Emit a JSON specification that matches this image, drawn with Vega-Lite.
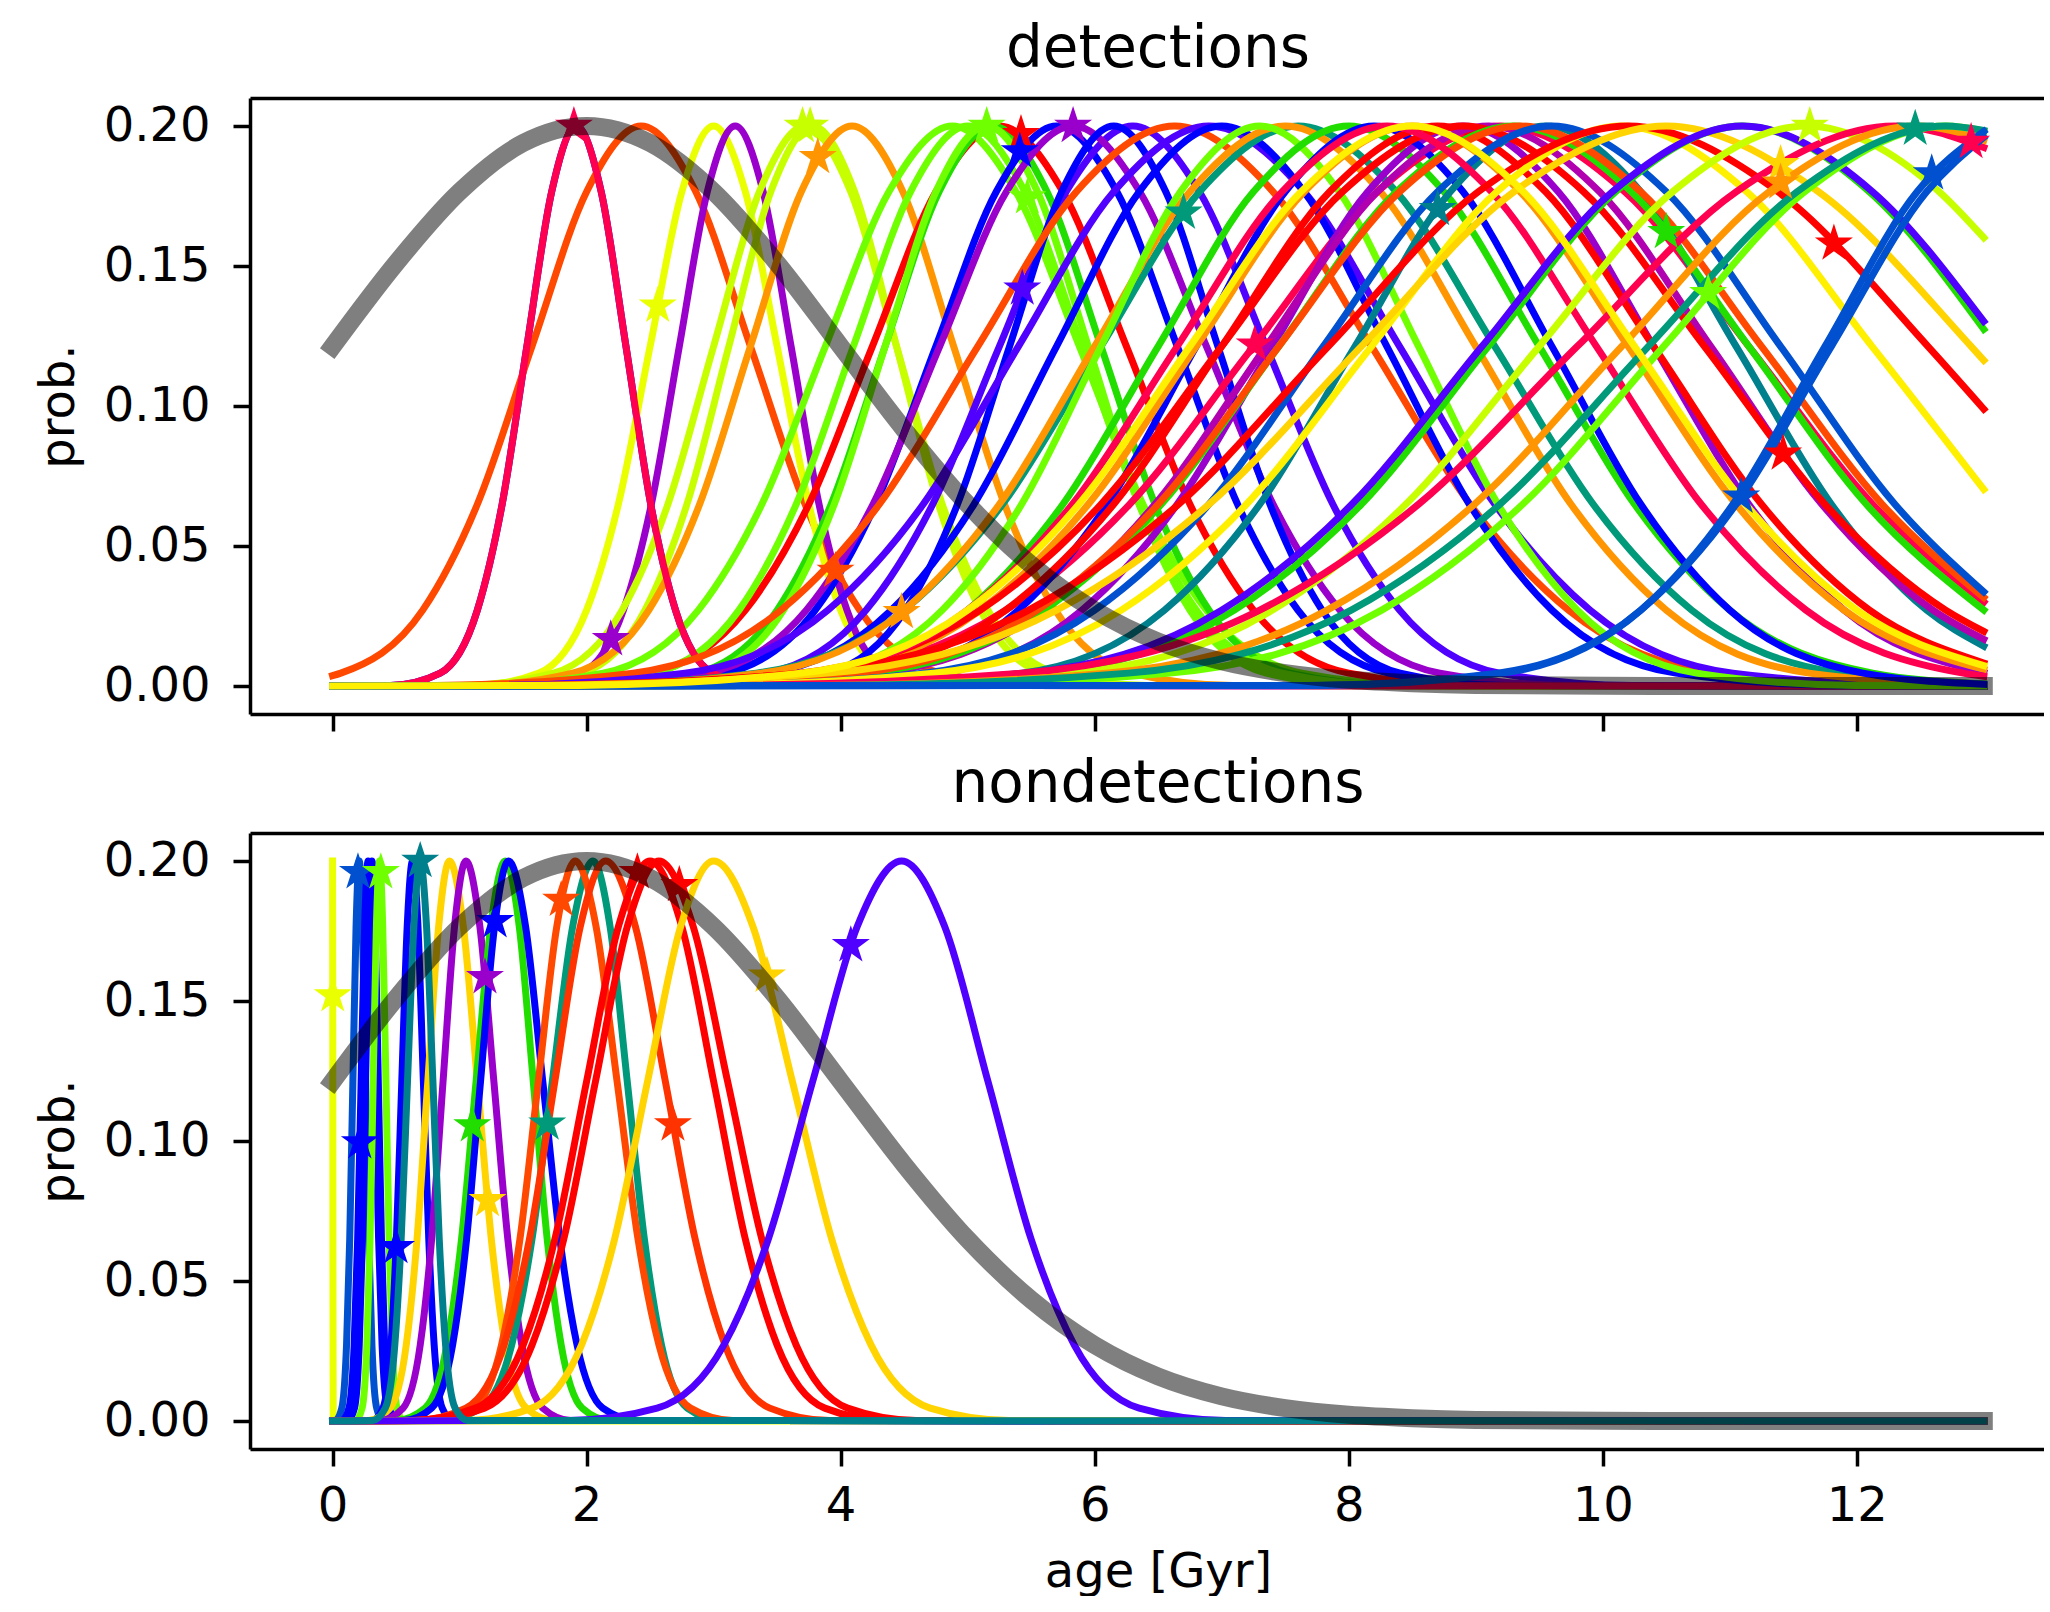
{
"$schema": "https://vega.github.io/schema/vega-lite/v6.json",
"background": "white",
"padding": {"left": 35, "top": 20, "right": 0, "bottom": 0},
"config": {
  "font": "DejaVu Sans",
  "view": {"stroke": null},
  "axis": {"domainColor": "#000000", "domainWidth": 3.5, "tickColor": "#000000", "tickWidth": 3.5, "tickSize": 17, "labelFont": "DejaVu Sans", "labelFontSize": 48, "labelColor": "#000000", "labelPadding": 16, "titleFont": "DejaVu Sans", "titleFontSize": 48, "titleFontWeight": "normal", "titleColor": "#000000", "titlePadding": 18, "grid": false, "labelFlush": false, "labelOverlap": false, "zindex": 1},
  "axisY": {"labelPadding": 23, "titlePadding": 20},
  "title": {"font": "DejaVu Sans", "fontSize": 58, "fontWeight": "normal", "color": "#000000", "baseline": "alphabetic", "offset": 11, "anchor": "middle", "dx": 11}
},
"datasets": {
"curves": [
{"panel":"det","id":"d01","hue":"blue","x":[0,0.4575,0.8475,1.14,1.335,1.53,1.725,1.92,2.115,2.31,2.505,2.7,2.9925,3.3825,13],"y":[0,0.0002,0.0046,0.0271,0.0649,0.1213,0.1765,0.2,0.1765,0.1213,0.0649,0.0271,0.0046,0.0002,0]},
{"panel":"det","id":"d03","hue":"orangered","x":[0,0.065,0.71,1.14,1.57,2.0,2.43,2.86,3.29,3.72,4.15,4.795,5.655,13],"y":[0.0037,0.0046,0.0271,0.0649,0.1213,0.1765,0.2,0.1765,0.1213,0.0649,0.0271,0.0046,0.0002,0]},
{"panel":"det","id":"d04","hue":"lemon","x":[0,1.125,1.625,2.0,2.25,2.5,2.75,3.0,3.25,3.5,3.75,4.0,4.375,4.875,13],"y":[0,0.0002,0.0046,0.0271,0.0649,0.1213,0.1765,0.2,0.1765,0.1213,0.0649,0.0271,0.0046,0.0002,0]},
{"panel":"det","id":"d05","hue":"purple","x":[0,1.52,1.96,2.29,2.51,2.73,2.95,3.17,3.39,3.61,3.83,4.05,4.38,4.82,13],"y":[0,0.0002,0.0046,0.0271,0.0649,0.1213,0.1765,0.2,0.1765,0.1213,0.0649,0.0271,0.0046,0.0002,0]},
{"panel":"det","id":"d06","hue":"chartreuse","x":[0,1.02,1.74,2.28,2.64,3.0,3.36,3.72,4.08,4.44,4.8,5.16,5.7,6.42,13],"y":[0,0.0002,0.0046,0.0271,0.0649,0.1213,0.1765,0.2,0.1765,0.1213,0.0649,0.0271,0.0046,0.0002,0]},
{"panel":"det","id":"d07","hue":"chartreuse","x":[0,1.305,1.965,2.46,2.79,3.12,3.45,3.78,4.11,4.44,4.77,5.1,5.595,6.255,13],"y":[0,0.0002,0.0046,0.0271,0.0649,0.1213,0.1765,0.2,0.1765,0.1213,0.0649,0.0271,0.0046,0.0002,0]},
{"panel":"det","id":"d08","hue":"orange","x":[0,1.09,1.89,2.49,2.89,3.29,3.69,4.09,4.49,4.89,5.29,5.69,6.29,7.09,13],"y":[0,0.0002,0.0046,0.0271,0.0649,0.1213,0.1765,0.2,0.1765,0.1213,0.0649,0.0271,0.0046,0.0002,0]},
{"panel":"det","id":"d09","hue":"lime","x":[0,1.13,2.13,2.88,3.38,3.88,4.38,4.88,5.38,5.88,6.38,6.88,7.63,8.63,13],"y":[0,0.0002,0.0046,0.0271,0.0649,0.1213,0.1765,0.2,0.1765,0.1213,0.0649,0.0271,0.0046,0.0002,0]},
{"panel":"det","id":"d10","hue":"red","x":[0,1.5,2.5,3.25,3.75,4.25,4.75,5.25,5.75,6.25,6.75,7.25,8.0,9.0,13],"y":[0,0.0002,0.0046,0.0271,0.0649,0.1213,0.1765,0.2,0.1765,0.1213,0.0649,0.0271,0.0046,0.0002,0]},
{"panel":"det","id":"d11","hue":"green","x":[0,2.0125,2.8625,3.5,3.925,4.35,4.775,5.2,5.625,6.05,6.475,6.9,7.5375,8.3875,13],"y":[0,0.0002,0.0046,0.0271,0.0649,0.1213,0.1765,0.2,0.1765,0.1213,0.0649,0.0271,0.0046,0.0002,0]},
{"panel":"det","id":"d12","hue":"lime","x":[0,2.15,2.95,3.55,3.95,4.35,4.75,5.15,5.55,5.95,6.35,6.75,7.35,8.15,13],"y":[0,0.0002,0.0046,0.0271,0.0649,0.1213,0.1765,0.2,0.1765,0.1213,0.0649,0.0271,0.0046,0.0002,0]},
{"panel":"det","id":"d13","hue":"lime","x":[0,1.625,2.525,3.2,3.65,4.1,4.55,5.0,5.45,5.9,6.35,6.8,7.475,8.375,13],"y":[0,0.0002,0.0046,0.0271,0.0649,0.1213,0.1765,0.2,0.1765,0.1213,0.0649,0.0271,0.0046,0.0002,0]},
{"panel":"det","id":"d14","hue":"blue","x":[0,2.1375,3.0875,3.8,4.275,4.75,5.225,5.7,6.175,6.65,7.125,7.6,8.3125,9.2625,13],"y":[0,0.0002,0.0046,0.0271,0.0649,0.1213,0.1765,0.2,0.1765,0.1213,0.0649,0.0271,0.0046,0.0002,0]},
{"panel":"det","id":"d15","hue":"violet","x":[0,2.3625,3.4125,4.2,4.725,5.25,5.775,6.3,6.825,7.35,7.875,8.4,9.1875,10.2375,13],"y":[0,0.0002,0.0046,0.0271,0.0649,0.1213,0.1765,0.2,0.1765,0.1213,0.0649,0.0271,0.0046,0.0002,0]},
{"panel":"det","id":"d16","hue":"purple","x":[0,1.8925,2.9425,3.73,4.255,4.78,5.305,5.83,6.355,6.88,7.405,7.93,8.7175,9.7675,13],"y":[0,0.0002,0.0046,0.0271,0.0649,0.1213,0.1765,0.2,0.1765,0.1213,0.0649,0.0271,0.0046,0.0002,0]},
{"panel":"det","id":"d17","hue":"blue","x":[0,3.075,3.895,4.51,4.92,5.33,5.74,6.15,6.56,6.97,7.38,7.79,8.405,9.225,13],"y":[0,0.0002,0.0046,0.0271,0.0649,0.1213,0.1765,0.2,0.1765,0.1213,0.0649,0.0271,0.0046,0.0002,0]},
{"panel":"det","id":"d02","hue":"crimson","x":[0,0.4575,0.8475,1.14,1.335,1.53,1.725,1.92,2.115,2.31,2.505,2.7,2.9925,3.3825,13],"y":[0,0.0002,0.0046,0.0271,0.0649,0.1213,0.1765,0.2,0.1765,0.1213,0.0649,0.0271,0.0046,0.0002,0]},
{"panel":"det","id":"d18","hue":"orangered","x":[0,0.8175,2.3675,3.53,4.305,5.08,5.855,6.63,7.405,8.18,8.955,9.73,10.8925,12.4425,13],"y":[0,0.0002,0.0046,0.0271,0.0649,0.1213,0.1765,0.2,0.1765,0.1213,0.0649,0.0271,0.0046,0.0002,0]},
{"panel":"det","id":"d19","hue":"violet","x":[0,1.275,2.775,3.9,4.65,5.4,6.15,6.9,7.65,8.4,9.15,9.9,11.025,12.525,13],"y":[0,0.0002,0.0046,0.0271,0.0649,0.1213,0.1765,0.2,0.1765,0.1213,0.0649,0.0271,0.0046,0.0002,0]},
{"panel":"det","id":"d20","hue":"blue","x":[0,2.125,3.425,4.4,5.05,5.7,6.35,7.0,7.65,8.3,8.95,9.6,10.575,11.875,13],"y":[0,0.0002,0.0046,0.0271,0.0649,0.1213,0.1765,0.2,0.1765,0.1213,0.0649,0.0271,0.0046,0.0002,0]},
{"panel":"det","id":"d21","hue":"teal","x":[0,1.7875,3.3375,4.5,5.275,6.05,6.825,7.6,8.375,9.15,9.925,10.7,11.8625,13],"y":[0,0.0002,0.0046,0.0271,0.0649,0.1213,0.1765,0.2,0.1765,0.1213,0.0649,0.0271,0.0046,0.0005]},
{"panel":"det","id":"d22","hue":"orange","x":[0,1.875,3.375,4.5,5.25,6.0,6.75,7.5,8.25,9.0,9.75,10.5,11.625,13],"y":[0,0.0002,0.0046,0.0271,0.0649,0.1213,0.1765,0.2,0.1765,0.1213,0.0649,0.0271,0.0046,0.0002]},
{"panel":"det","id":"d23","hue":"lime","x":[0,2.6125,3.8625,4.8,5.425,6.05,6.675,7.3,7.925,8.55,9.175,9.8,10.7375,11.9875,13],"y":[0,0.0002,0.0046,0.0271,0.0649,0.1213,0.1765,0.2,0.1765,0.1213,0.0649,0.0271,0.0046,0.0002,0]},
{"panel":"det","id":"d24","hue":"green","x":[0,2.375,3.875,5.0,5.75,6.5,7.25,8.0,8.75,9.5,10.25,11.0,12.125,13],"y":[0,0.0002,0.0046,0.0271,0.0649,0.1213,0.1765,0.2,0.1765,0.1213,0.0649,0.0271,0.0046,0.0008]},
{"panel":"det","id":"d25","hue":"crimson","x":[0,1.8875,3.8375,5.3,6.275,7.25,8.225,9.2,10.175,11.15,12.125,13],"y":[0,0.0002,0.0046,0.0271,0.0649,0.1213,0.1765,0.2,0.1765,0.1213,0.0649,0.03]},
{"panel":"det","id":"d26","hue":"purple","x":[0,3.275,4.775,5.9,6.65,7.4,8.15,8.9,9.65,10.4,11.15,11.9,13],"y":[0,0.0002,0.0046,0.0271,0.0649,0.1213,0.1765,0.2,0.1765,0.1213,0.0649,0.0271,0.0048]},
{"panel":"det","id":"d27","hue":"blue","x":[0,2.95,4.35,5.4,6.1,6.8,7.5,8.2,8.9,9.6,10.3,11.0,12.05,13],"y":[0,0.0002,0.0046,0.0271,0.0649,0.1213,0.1765,0.2,0.1765,0.1213,0.0649,0.0271,0.0046,0.0006]},
{"panel":"det","id":"d28","hue":"cyan","x":[0,3.925,5.425,6.55,7.3,8.05,8.8,9.55,10.3,11.05,11.8,12.55,13],"y":[0,0.0002,0.0046,0.0271,0.0649,0.1213,0.1765,0.2,0.1765,0.1213,0.0649,0.0271,0.0142]},
{"panel":"det","id":"d29","hue":"orange","x":[0,2.125,3.825,5.1,5.95,6.8,7.65,8.5,9.35,10.2,11.05,11.9,13],"y":[0,0.0002,0.0046,0.0271,0.0649,0.1213,0.1765,0.2,0.1765,0.1213,0.0649,0.0271,0.006]},
{"panel":"det","id":"d31","hue":"red","x":[0,2.325,4.025,5.3,6.15,7.0,7.85,8.7,9.55,10.4,11.25,12.1,13],"y":[0,0.0002,0.0046,0.0271,0.0649,0.1213,0.1765,0.2,0.1765,0.1213,0.0649,0.0271,0.0082]},
{"panel":"det","id":"d32","hue":"magenta","x":[0,2.5375,4.2875,5.6,6.475,7.35,8.225,9.1,9.975,10.85,11.725,12.6,13],"y":[0,0.0002,0.0046,0.0271,0.0649,0.1213,0.1765,0.2,0.1765,0.1213,0.0649,0.0271,0.0167]},
{"panel":"det","id":"d33","hue":"red","x":[0,1.775,3.675,5.1,6.05,7.0,7.95,8.9,9.85,10.8,11.75,12.7,13],"y":[0,0.0002,0.0046,0.0271,0.0649,0.1213,0.1765,0.2,0.1765,0.1213,0.0649,0.0271,0.0195]},
{"panel":"det","id":"d34","hue":"green","x":[0,2.3625,4.2125,5.6,6.525,7.45,8.375,9.3,10.225,11.15,12.075,13],"y":[0,0.0002,0.0046,0.0271,0.0649,0.1213,0.1765,0.2,0.1765,0.1213,0.0649,0.0271]},
{"panel":"det","id":"d35","hue":"orangered","x":[0,2.225,4.125,5.55,6.5,7.45,8.4,9.35,10.3,11.25,12.2,13],"y":[0,0.0002,0.0046,0.0271,0.0649,0.1213,0.1765,0.2,0.1765,0.1213,0.0649,0.0316]},
{"panel":"det","id":"d36","hue":"midblue","x":[0,2.85,4.65,6.0,6.9,7.8,8.7,9.6,10.5,11.4,12.3,13],"y":[0,0.0002,0.0046,0.0271,0.0649,0.1213,0.1765,0.2,0.1765,0.1213,0.0649,0.0336]},
{"panel":"det","id":"d37","hue":"crimson","x":[0,2.1125,3.7625,5.0,5.825,6.65,7.475,8.3,9.125,9.95,10.775,11.6,12.8375,13],"y":[0,0.0002,0.0046,0.0271,0.0649,0.1213,0.1765,0.2,0.1765,0.1213,0.0649,0.0271,0.0046,0.0035]},
{"panel":"det","id":"d38","hue":"yellow","x":[0,2.7625,4.7325,6.21,7.195,8.18,9.165,10.15,11.135,12.12,13],"y":[0,0.0002,0.0046,0.0271,0.0649,0.1213,0.1765,0.2,0.1765,0.1213,0.0702]},
{"panel":"det","id":"d39","hue":"red","x":[0,1.35,3.71,5.48,6.66,7.84,9.02,10.2,11.38,12.56,13],"y":[0,0.0002,0.0046,0.0271,0.0649,0.1213,0.1765,0.2,0.1765,0.1213,0.0989]},
{"panel":"det","id":"d40","hue":"gold","x":[0,1.5,3.9,5.7,6.9,8.1,9.3,10.5,11.7,12.9,13],"y":[0,0.0002,0.0046,0.0271,0.0649,0.1213,0.1765,0.2,0.1765,0.1213,0.1163]},
{"panel":"det","id":"d41","hue":"green","x":[0,3.6,5.6,7.1,8.1,9.1,10.1,11.1,12.1,13],"y":[0,0.0002,0.0046,0.0271,0.0649,0.1213,0.1765,0.2,0.1765,0.1274]},
{"panel":"det","id":"d42","hue":"violet","x":[0,3.4125,5.4625,7.0,8.025,9.05,10.075,11.1,12.125,13],"y":[0,0.0002,0.0046,0.0271,0.0649,0.1213,0.1765,0.2,0.1765,0.1302]},
{"panel":"det","id":"d43","hue":"chartreuse","x":[0,3.725,5.825,7.4,8.45,9.5,10.55,11.6,12.65,13],"y":[0,0.0002,0.0046,0.0271,0.0649,0.1213,0.1765,0.2,0.1765,0.1601]},
{"panel":"det","id":"d44","hue":"crimson","x":[0,2.925,5.425,7.3,8.55,9.8,11.05,12.3,13],"y":[0,0.0002,0.0046,0.0271,0.0649,0.1213,0.1765,0.2,0.1923]},
{"panel":"det","id":"d45","hue":"orange","x":[0,3.77,6.09,7.83,8.99,10.15,11.31,12.47,13],"y":[0,0.0002,0.0046,0.0271,0.0649,0.1213,0.1765,0.2,0.1949]},
{"panel":"det","id":"d46","hue":"lime","x":[0,4.375,6.595,8.26,9.37,10.48,11.59,12.7,13],"y":[0,0.0002,0.0046,0.0271,0.0649,0.1213,0.1765,0.2,0.1982]},
{"panel":"det","id":"d47","hue":"teal","x":[0,3.925,6.265,8.02,9.19,10.36,11.53,12.7,13],"y":[0,0.0002,0.0046,0.0271,0.0649,0.1213,0.1765,0.2,0.1984]},
{"panel":"det","id":"d48","hue":"midblue","x":[0,7.675,9.175,10.3,11.05,11.8,12.55,13],"y":[0,0.0002,0.0046,0.0271,0.0649,0.1213,0.1765,0.196]},
{"panel":"det","id":"d49","hue":"midblue","x":[0,7.7625,9.2125,10.3,11.025,11.75,12.475,13],"y":[0,0.0002,0.0046,0.0271,0.0649,0.1213,0.1765,0.1981]},
{"panel":"det","id":"d30","hue":"yellow","x":[0,1.9375,3.6875,5.0,5.875,6.75,7.625,8.5,9.375,10.25,11.125,12.0,13],"y":[0,0.0002,0.0046,0.0271,0.0649,0.1213,0.1765,0.2,0.1765,0.1213,0.0649,0.0271,0.0073]},
{"panel":"non","id":"n01","hue":"lemon","x":[0,0.0015,0.003,0.006,13],"y":[0.2,0.152,0.06,0,0]},
{"panel":"non","id":"n02","hue":"midblue","x":[0,0.0225,0.0725,0.11,0.135,0.16,0.185,0.21,0.235,0.26,0.285,0.31,0.3475,0.3975,13],"y":[0,0.0002,0.0046,0.0271,0.0649,0.1213,0.1765,0.2,0.1765,0.1213,0.0649,0.0271,0.0046,0.0002,0]},
{"panel":"non","id":"n03","hue":"blue","x":[0,0.0738,0.1288,0.17,0.1975,0.225,0.2525,0.28,0.3075,0.335,0.3625,0.39,0.4313,0.4863,13],"y":[0,0.0002,0.0046,0.0271,0.0649,0.1213,0.1765,0.2,0.1765,0.1213,0.0649,0.0271,0.0046,0.0002,0]},
{"panel":"non","id":"n04","hue":"blue","x":[0,0.1225,0.1725,0.21,0.235,0.26,0.285,0.31,0.335,0.36,0.385,0.41,0.4475,0.4975,13],"y":[0,0.0002,0.0046,0.0271,0.0649,0.1213,0.1765,0.2,0.1765,0.1213,0.0649,0.0271,0.0046,0.0002,0]},
{"panel":"non","id":"n05","hue":"lime","x":[0,0.1825,0.2325,0.27,0.295,0.32,0.345,0.37,0.395,0.42,0.445,0.47,0.5075,0.5575,13],"y":[0,0.0002,0.0046,0.0271,0.0649,0.1213,0.1765,0.2,0.1765,0.1213,0.0649,0.0271,0.0046,0.0002,0]},
{"panel":"non","id":"n06","hue":"blue","x":[0,0.3113,0.3963,0.46,0.5025,0.545,0.5875,0.63,0.6725,0.715,0.7575,0.8,0.8638,0.9488,13],"y":[0,0.0002,0.0046,0.0271,0.0649,0.1213,0.1765,0.2,0.1765,0.1213,0.0649,0.0271,0.0046,0.0002,0]},
{"panel":"non","id":"n08","hue":"gold","x":[0,0.2825,0.4525,0.58,0.665,0.75,0.835,0.92,1.03,1.14,1.25,1.36,1.525,1.745,13],"y":[0,0.0002,0.0046,0.0271,0.0649,0.1213,0.1765,0.2,0.1765,0.1213,0.0649,0.0271,0.0046,0.0002,0]},
{"panel":"non","id":"n09","hue":"purple","x":[0,0.375,0.555,0.69,0.78,0.87,0.96,1.05,1.16,1.27,1.38,1.49,1.655,1.875,13],"y":[0,0.0002,0.0046,0.0271,0.0649,0.1213,0.1765,0.2,0.1765,0.1213,0.0649,0.0271,0.0046,0.0002,0]},
{"panel":"non","id":"n10","hue":"green","x":[0,0.4975,0.7275,0.9,1.015,1.13,1.245,1.36,1.47,1.58,1.69,1.8,1.965,2.185,13],"y":[0,0.0002,0.0046,0.0271,0.0649,0.1213,0.1765,0.2,0.1765,0.1213,0.0649,0.0271,0.0046,0.0002,0]},
{"panel":"non","id":"n11","hue":"blue","x":[0,0.56,0.78,0.945,1.055,1.165,1.275,1.385,1.52,1.655,1.79,1.925,2.1275,2.3975,13],"y":[0,0.0002,0.0046,0.0271,0.0649,0.1213,0.1765,0.2,0.1765,0.1213,0.0649,0.0271,0.0046,0.0002,0]},
{"panel":"non","id":"n12","hue":"teal","x":[0,0.85,1.17,1.41,1.57,1.73,1.89,2.05,2.185,2.32,2.455,2.59,2.7925,3.0625,13],"y":[0,0.0002,0.0046,0.0271,0.0649,0.1213,0.1765,0.2,0.1765,0.1213,0.0649,0.0271,0.0046,0.0002,0]},
{"panel":"non","id":"n13","hue":"orangered","x":[0,0.8225,1.1125,1.33,1.475,1.62,1.765,1.91,2.075,2.24,2.405,2.57,2.8175,3.1475,13],"y":[0,0.0002,0.0046,0.0271,0.0649,0.1213,0.1765,0.2,0.1765,0.1213,0.0649,0.0271,0.0046,0.0002,0]},
{"panel":"non","id":"n14","hue":"scarlet","x":[0,0.65,1.05,1.35,1.55,1.75,1.95,2.15,2.385,2.62,2.855,3.09,3.4425,3.9125,13],"y":[0,0.0002,0.0046,0.0271,0.0649,0.1213,0.1765,0.2,0.1765,0.1213,0.0649,0.0271,0.0046,0.0002,0]},
{"panel":"non","id":"n15","hue":"red","x":[0,0.625,1.125,1.5,1.75,2.0,2.25,2.5,2.75,3.0,3.25,3.5,3.875,4.375,13],"y":[0,0.0002,0.0046,0.0271,0.0649,0.1213,0.1765,0.2,0.1765,0.1213,0.0649,0.0271,0.0046,0.0002,0]},
{"panel":"non","id":"n16","hue":"red","x":[0,0.695,1.195,1.57,1.82,2.07,2.32,2.57,2.84,3.11,3.38,3.65,4.055,4.595,13],"y":[0,0.0002,0.0046,0.0271,0.0649,0.1213,0.1765,0.2,0.1765,0.1213,0.0649,0.0271,0.0046,0.0002,0]},
{"panel":"non","id":"n17","hue":"gold","x":[0,1.05,1.57,1.96,2.22,2.48,2.74,3.0,3.31,3.62,3.93,4.24,4.705,5.325,13],"y":[0,0.0002,0.0046,0.0271,0.0649,0.1213,0.1765,0.2,0.1765,0.1213,0.0649,0.0271,0.0046,0.0002,0]},
{"panel":"non","id":"n18","hue":"violet","x":[0,1.855,2.555,3.08,3.43,3.78,4.13,4.48,4.82,5.16,5.5,5.84,6.35,7.03,13],"y":[0,0.0002,0.0046,0.0271,0.0649,0.1213,0.1765,0.2,0.1765,0.1213,0.0649,0.0271,0.0046,0.0002,0]},
{"panel":"non","id":"n07","hue":"cyan","x":[0,0.315,0.415,0.49,0.54,0.59,0.64,0.69,0.74,0.79,0.84,0.89,0.965,1.065,13],"y":[0,0.0002,0.0046,0.0271,0.0649,0.1213,0.1765,0.2,0.1765,0.1213,0.0649,0.0271,0.0046,0.0002,0]}
],
"stars": [
{"panel":"det","id":"d02","hue":"crimson","x":1.9,"y":0.2},
{"panel":"det","id":"d03","hue":"orangered","x":3.96,"y":0.0411},
{"panel":"det","id":"d04","hue":"lemon","x":2.56,"y":0.1358},
{"panel":"det","id":"d05","hue":"purple","x":2.19,"y":0.0167},
{"panel":"det","id":"d06","hue":"chartreuse","x":3.7,"y":0.2},
{"panel":"det","id":"d07","hue":"chartreuse","x":3.76,"y":0.2},
{"panel":"det","id":"d08","hue":"orange","x":3.82,"y":0.1889},
{"panel":"det","id":"d10","hue":"red","x":5.42,"y":0.1971},
{"panel":"det","id":"d12","hue":"lime","x":5.15,"y":0.2},
{"panel":"det","id":"d13","hue":"lime","x":5.47,"y":0.1745},
{"panel":"det","id":"d14","hue":"blue","x":5.41,"y":0.1909},
{"panel":"det","id":"d15","hue":"violet","x":5.43,"y":0.1419},
{"panel":"det","id":"d16","hue":"purple","x":5.83,"y":0.2},
{"panel":"det","id":"d21","hue":"teal","x":6.7,"y":0.169},
{"panel":"det","id":"d22","hue":"orange","x":4.48,"y":0.0264},
{"panel":"det","id":"d25","hue":"crimson","x":7.26,"y":0.1219},
{"panel":"det","id":"d28","hue":"cyan","x":8.7,"y":0.1703},
{"panel":"det","id":"d33","hue":"red","x":11.42,"y":0.083},
{"panel":"det","id":"d34","hue":"green","x":10.5,"y":0.1621},
{"panel":"det","id":"d39","hue":"red","x":11.82,"y":0.158},
{"panel":"det","id":"d40","hue":"gold","x":11.4,"y":0.1864},
{"panel":"det","id":"d43","hue":"chartreuse","x":11.63,"y":0.2},
{"panel":"det","id":"d44","hue":"crimson","x":12.9,"y":0.1943},
{"panel":"det","id":"d45","hue":"orange","x":11.4,"y":0.1798},
{"panel":"det","id":"d46","hue":"lime","x":10.83,"y":0.1403},
{"panel":"det","id":"d47","hue":"teal","x":12.46,"y":0.199},
{"panel":"det","id":"d48","hue":"midblue","x":11.09,"y":0.0676},
{"panel":"det","id":"d49","hue":"midblue","x":12.59,"y":0.1831},
{"panel":"non","id":"n01","hue":"lemon","x":0.0015,"y":0.152},
{"panel":"non","id":"n02","hue":"midblue","x":0.2,"y":0.196},
{"panel":"non","id":"n03","hue":"blue","x":0.215,"y":0.0995},
{"panel":"non","id":"n05","hue":"lime","x":0.38,"y":0.196},
{"panel":"non","id":"n06","hue":"blue","x":0.5,"y":0.0621},
{"panel":"non","id":"n07","hue":"cyan","x":0.69,"y":0.2},
{"panel":"non","id":"n08","hue":"gold","x":1.22,"y":0.0789},
{"panel":"non","id":"n09","hue":"purple","x":1.2,"y":0.1585},
{"panel":"non","id":"n10","hue":"green","x":1.1,"y":0.1056},
{"panel":"non","id":"n11","hue":"blue","x":1.28,"y":0.1785},
{"panel":"non","id":"n12","hue":"teal","x":1.69,"y":0.1062},
{"panel":"non","id":"n13","hue":"orangered","x":1.8,"y":0.1861},
{"panel":"non","id":"n14","hue":"scarlet","x":2.68,"y":0.1059},
{"panel":"non","id":"n15","hue":"red","x":2.4,"y":0.196},
{"panel":"non","id":"n16","hue":"red","x":2.73,"y":0.1914},
{"panel":"non","id":"n17","hue":"gold","x":3.42,"y":0.159},
{"panel":"non","id":"n18","hue":"violet","x":4.08,"y":0.1699}
],
"prior": [
{"x":0,"y":0.1213},{"x":0.5,"y":0.151},{"x":1,"y":0.1765},{"x":1.5,"y":0.1939},{"x":2,"y":0.2},{"x":2.5,"y":0.1939},{"x":3,"y":0.1765},{"x":3.5,"y":0.151},{"x":4,"y":0.1213},{"x":4.5,"y":0.0916},{"x":5,"y":0.0649},{"x":5.5,"y":0.0433},{"x":6,"y":0.0271},{"x":6.5,"y":0.0159},{"x":7,"y":0.0088},{"x":7.5,"y":0.0046},{"x":8,"y":0.0022},{"x":8.5,"y":0.001},{"x":9,"y":0.0004},{"x":10,"y":0.0001},{"x":11,"y":0},{"x":12,"y":0},{"x":13,"y":0}
]
},
"vconcat": [
{
 "title": {"text": "detections"},
 "width": 1794, "height": 616,
 "layer": [
  {"data": {"name": "curves"},
   "transform": [{"filter": "datum.panel === 'det'"}, {"flatten": ["x", "y"]}],
   "mark": {"type": "line", "interpolate": "monotone", "strokeWidth": 7, "strokeCap": "square"},
   "encoding": {
    "x": {"field": "x", "type": "quantitative", "scale": {"domain": [-0.65, 13.474], "nice": false, "zero": false}, "axis": {"orient": "bottom", "values": [0,2,4,6,8,10,12], "labels": false, "title": null}},
    "y": {"field": "y", "type": "quantitative", "scale": {"domain": [-0.01, 0.21], "nice": false, "zero": false}, "axis": {"values": [0,0.05,0.1,0.15,0.2], "format": ".2f", "title": "prob."}},
    "detail": {"field": "id"},
    "color": {"field": "hue", "type": "nominal", "legend": null, "scale": {"domain": ["red","scarlet","orangered","orange","gold","yellow","lemon","chartreuse","lime","green","teal","cyan","midblue","blue","violet","purple","magenta","crimson"], "range": ["#ff0000","#ff3300","#ff4800","#ff9500","#ffd400","#fff000","#eaff00","#c8ff00","#70ff00","#22dd00","#00997a","#00808c","#0050d0","#0000ff","#5000ff","#9a00cc","#b000b0","#ff0050"]}}
   }},
  {"data": {"name": "stars"},
   "transform": [{"filter": "datum.panel === 'det'"}],
   "mark": {"type": "point", "shape": "M0,-1L0.2245,-0.309L0.9511,-0.309L0.3633,0.118L0.5878,0.809L0,0.382L-0.5878,0.809L-0.3633,0.118L-0.9511,-0.309L-0.2245,-0.309Z", "filled": true, "opacity": 1, "size": 1600},
   "encoding": {
    "x": {"field": "x", "type": "quantitative", "axis": null},
    "y": {"field": "y", "type": "quantitative", "axis": {"values": [0,0.05,0.1,0.15,0.2], "format": ".2f", "title": "prob."}},
    "color": {"field": "hue", "type": "nominal", "legend": null, "scale": {"domain": ["red","scarlet","orangered","orange","gold","yellow","lemon","chartreuse","lime","green","teal","cyan","midblue","blue","violet","purple","magenta","crimson"], "range": ["#ff0000","#ff3300","#ff4800","#ff9500","#ffd400","#fff000","#eaff00","#c8ff00","#70ff00","#22dd00","#00997a","#00808c","#0050d0","#0000ff","#5000ff","#9a00cc","#b000b0","#ff0050"]}}
   }},
  {"data": {"name": "prior"},
   "mark": {"type": "line", "interpolate": "monotone", "color": "#000000", "opacity": 0.5, "strokeWidth": 18, "strokeCap": "square"},
   "encoding": {
    "x": {"field": "x", "type": "quantitative", "axis": {"orient": "top", "labels": false, "ticks": false, "title": null, "domain": true}},
    "y": {"field": "y", "type": "quantitative", "axis": {"values": [0,0.05,0.1,0.15,0.2], "format": ".2f", "title": "prob."}}
   }}
 ],
 "resolve": {"axis": {"x": "independent"}}
},
{
 "title": {"text": "nondetections"},
 "width": 1794, "height": 616,
 "layer": [
  {"data": {"name": "curves"},
   "transform": [{"filter": "datum.panel === 'non'"}, {"flatten": ["x", "y"]}],
   "mark": {"type": "line", "interpolate": "monotone", "strokeWidth": 7, "strokeCap": "square"},
   "encoding": {
    "x": {"field": "x", "type": "quantitative", "scale": {"domain": [-0.65, 13.474], "nice": false, "zero": false}, "axis": {"orient": "bottom", "values": [0,2,4,6,8,10,12], "format": "d", "title": "age [Gyr]", "titleX": 908}},
    "y": {"field": "y", "type": "quantitative", "scale": {"domain": [-0.01, 0.21], "nice": false, "zero": false}, "axis": {"values": [0,0.05,0.1,0.15,0.2], "format": ".2f", "title": "prob."}},
    "detail": {"field": "id"},
    "color": {"field": "hue", "type": "nominal", "legend": null, "scale": {"domain": ["red","scarlet","orangered","orange","gold","yellow","lemon","chartreuse","lime","green","teal","cyan","midblue","blue","violet","purple","magenta","crimson"], "range": ["#ff0000","#ff3300","#ff4800","#ff9500","#ffd400","#fff000","#eaff00","#c8ff00","#70ff00","#22dd00","#00997a","#00808c","#0050d0","#0000ff","#5000ff","#9a00cc","#b000b0","#ff0050"]}}
   }},
  {"data": {"name": "stars"},
   "transform": [{"filter": "datum.panel === 'non'"}],
   "mark": {"type": "point", "shape": "M0,-1L0.2245,-0.309L0.9511,-0.309L0.3633,0.118L0.5878,0.809L0,0.382L-0.5878,0.809L-0.3633,0.118L-0.9511,-0.309L-0.2245,-0.309Z", "filled": true, "opacity": 1, "size": 1600},
   "encoding": {
    "x": {"field": "x", "type": "quantitative", "axis": null},
    "y": {"field": "y", "type": "quantitative", "axis": {"values": [0,0.05,0.1,0.15,0.2], "format": ".2f", "title": "prob."}},
    "color": {"field": "hue", "type": "nominal", "legend": null, "scale": {"domain": ["red","scarlet","orangered","orange","gold","yellow","lemon","chartreuse","lime","green","teal","cyan","midblue","blue","violet","purple","magenta","crimson"], "range": ["#ff0000","#ff3300","#ff4800","#ff9500","#ffd400","#fff000","#eaff00","#c8ff00","#70ff00","#22dd00","#00997a","#00808c","#0050d0","#0000ff","#5000ff","#9a00cc","#b000b0","#ff0050"]}}
   }},
  {"data": {"name": "prior"},
   "mark": {"type": "line", "interpolate": "monotone", "color": "#000000", "opacity": 0.5, "strokeWidth": 18, "strokeCap": "square"},
   "encoding": {
    "x": {"field": "x", "type": "quantitative", "axis": {"orient": "top", "labels": false, "ticks": false, "title": null, "domain": true}},
    "y": {"field": "y", "type": "quantitative", "axis": {"values": [0,0.05,0.1,0.15,0.2], "format": ".2f", "title": "prob."}}
   }}
 ],
 "resolve": {"axis": {"x": "independent"}}
}
],
"spacing": 22
}
